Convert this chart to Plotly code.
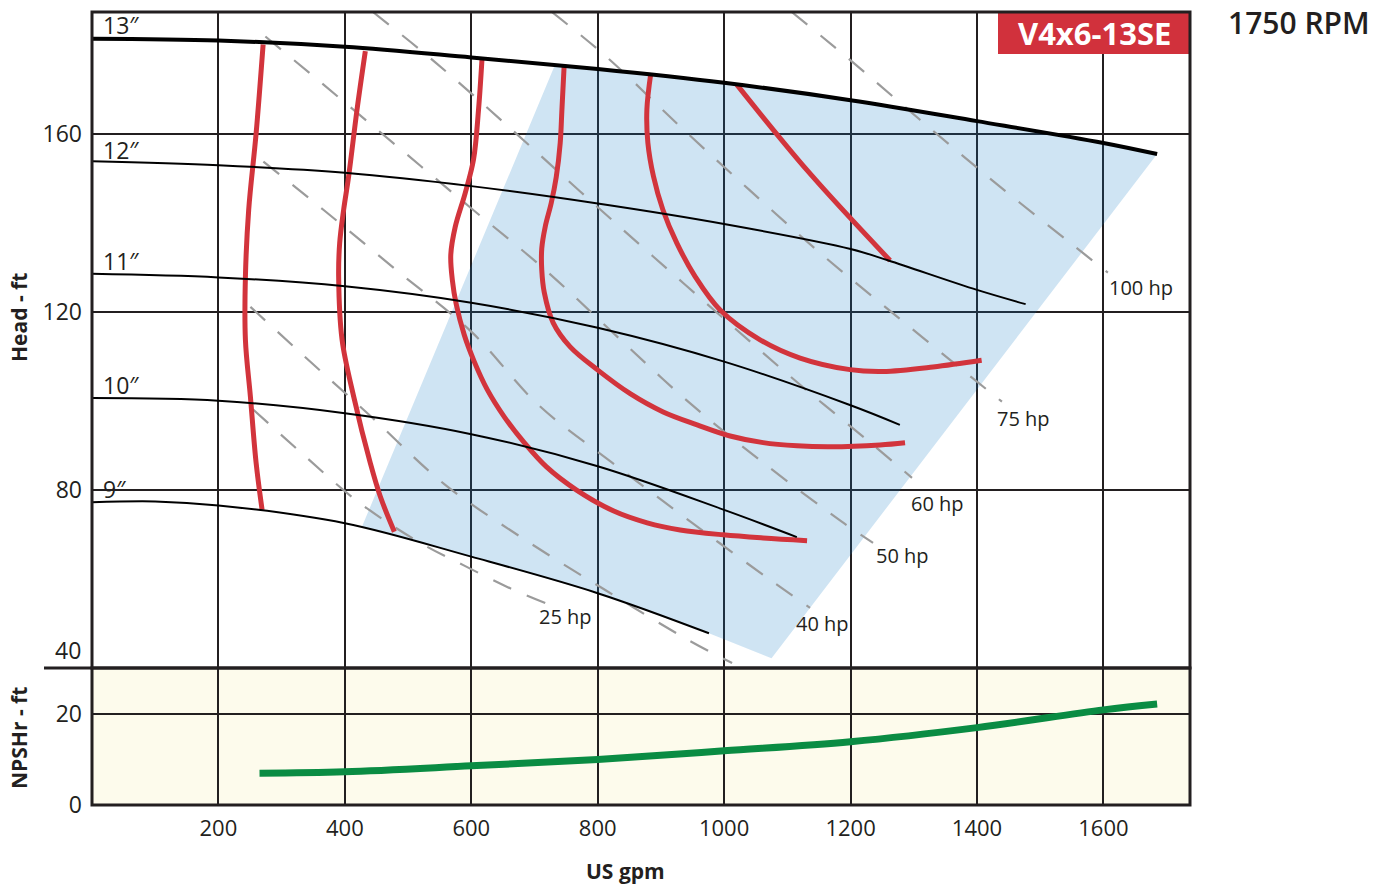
import plotly.graph_objects as go

# ---------------- data ----------------
# Impeller head curves: flow (US gpm) vs head (ft)
q13 = [0, 200, 400, 600, 800, 1000, 1200, 1400, 1600, 1685]
h13 = [181.3, 180.9, 179.5, 177.1, 174.5, 171.4, 167.5, 162.8, 157.9, 155.4]
q12 = [0, 200, 400, 600, 800, 1000, 1200, 1260, 1400, 1477]
h12 = [153.8, 152.9, 151.2, 148.2, 144.3, 139.7, 134.1, 131.5, 124.9, 121.7]
q11 = [0, 200, 400, 600, 800, 1000, 1200, 1278]
h11 = [128.5, 127.7, 125.7, 122.0, 116.4, 108.8, 99.0, 94.6]
q10 = [0, 200, 400, 600, 800, 1000, 1115]
h10 = [100.6, 100.0, 97.2, 92.5, 85.3, 75.5, 69.4]
q9 = [0, 100, 200, 400, 600, 800, 976]
h9 = [77.2, 77.4, 76.5, 72.5, 65.0, 56.8, 47.8]
impeller_labels = ["13″", "12″", "11″", "10″", "9″"]
impeller_label_h = [184.3, 156.4, 131.3, 103.6, 80.2]

# Iso-efficiency curves
e1_q = [270.7, 259.6, 247.9, 242.7, 242.7, 250.6, 259.6, 269.1]
e1_h = [180.0, 160.0, 142.9, 127.9, 113.7, 100.9, 86.1, 75.5]
e2_q = [432.4, 419.3, 406.0, 398.1, 391.8, 390.2, 395.6, 413.9, 440.3, 456.1, 478.3]
e2_h = [178.5, 165.4, 150.4, 142.9, 135.4, 127.9, 113.7, 101.0, 86.0, 78.5, 70.6]
e3_q = [616.9, 611.5, 603.6, 590.5, 574.7, 567.6, 570.0, 576.3, 588.9, 604.7, 625.3,
        652.2, 683.8, 718.6, 766.0, 824.5, 878.3, 930.4, 998.4, 1061.7, 1131.2]
e3_h = [176.6, 165.4, 154.2, 146.7, 139.1, 132.8, 127.2, 121.6, 114.8, 108.8, 102.5,
        96.4, 90.6, 85.2, 80.0, 75.3, 72.6, 71.0, 69.9, 69.2, 68.6]
e4_q = [747.0, 743.4, 740.7, 734.4, 726.5, 717.0, 711.5, 711.5, 715.5, 729.6, 756.5,
        799.2, 851.4, 903.6, 957.3, 1009.5, 1061.7, 1115.4, 1167.6, 1246.6, 1286.2]
e4_h = [175.5, 165.4, 157.9, 150.2, 144.4, 139.1, 134.2, 129.4, 124.3, 117.5, 112.1,
        107.0, 101.6, 97.5, 94.6, 92.1, 90.6, 89.9, 89.7, 90.1, 90.6]
e5_q = [884.1, 877.8, 879.4, 888.2, 903.1, 925.2, 954.2, 993.7, 1056.9, 1120.2,
        1199.2, 1251.4, 1330.4, 1407.4]
e5_h = [173.6, 165.4, 157.9, 150.4, 142.9, 135.4, 127.9, 120.4, 113.7, 109.6,
        107.0, 106.6, 107.6, 109.1]
e6_q = [1020.1, 1132.9, 1262.5]
e6_h = [171.0, 151.5, 131.5]

# Constant power lines (hp)
p25_q = [255.3, 334.4, 421.3, 519.4, 587.4, 656.9, 717.0]
p25_h = [98.0, 87.9, 77.3, 68.1, 63.1, 58.2, 54.6]
p30_q = [250.6, 329.7, 443.5, 557.3, 680.6, 811.9, 943.1, 1012.6]
p30_h = [121.1, 110.8, 96.2, 81.3, 69.2, 57.5, 46.3, 41.1]
p40_q = [271.1, 366.0, 484.6, 601.6, 706.0, 827.7, 949.4, 1072.7, 1135.9]
p40_h = [153.7, 142.9, 129.0, 115.3, 99.1, 85.6, 72.6, 59.8, 53.5]
p50_q = [274.3, 364.4, 481.4, 598.4, 717.0, 830.8, 943.1, 1061.7, 1186.6, 1235.6]
p50_h = [181.8, 171.2, 157.3, 143.4, 129.4, 114.4, 99.8, 86.1, 72.8, 68.1]
p60_q = [444.4, 543.1, 658.5, 772.3, 887.7, 1004.7, 1120.2, 1235.6, 1297.2]
p60_h = [187.3, 176.0, 161.6, 147.0, 132.4, 117.8, 103.6, 90.1, 82.7]
p75_q = [727.4, 815.0, 927.3, 1039.5, 1155.0, 1273.6, 1392.1, 1439.5]
p75_h = [187.3, 177.1, 162.0, 147.4, 132.8, 118.9, 105.2, 99.8]
p100_q = [1106.9, 1194.5, 1309.9, 1428.5, 1547.0, 1607.1]
p100_h = [187.3, 177.1, 163.1, 149.0, 135.5, 128.8]
hp_labels = ["25 hp", "40 hp", "50 hp", "60 hp", "75 hp", "100 hp"]
hp_label_q = [748.6, 1155.2, 1282.2, 1337.5, 1473.5, 1660.1]
hp_label_h = [51.5, 49.9, 65.2, 77.0, 96.1, 125.5]

# Preferred operating region (outline vertices)
region_q = [733, 800, 1000, 1200, 1400, 1600, 1685, 1075, 976, 800, 600, 427]
region_h = [175.6, 174.5, 171.4, 167.5, 162.8, 157.9, 155.4, 42.2, 47.8, 56.8, 65.0, 71.7]

# NPSHr curve
npsh_q = [265, 400, 600, 800, 1000, 1200, 1400, 1600, 1685]
npsh_ft = [7.0, 7.3, 8.6, 10.0, 11.9, 13.9, 17.0, 20.9, 22.2]

x_ticks = [200, 400, 600, 800, 1000, 1200, 1400, 1600]
head_ticks = [80, 120, 160]
npsh_ticks = [0, 20]

# ---------------- styling ----------------
INK = "#231f20"
RED = "#d2343c"
GRAY = "#9b9b9b"
FONT = "Open Sans"
X_MAX = 1737
H_MIN, H_MAX = 40, 187.3
N_MAX = 30.1
W, H = 1390, 886
PW, PH = 1098, 793          # plot area size in px
PL, PT = 92, 12             # plot area left/top on screen
SPLIT = 137 / PH            # NPSH panel fraction of plot height


def px(x):
    return (x - PL) / PW


def py(y):
    return 1 - (y - PT) / PH


fig = go.Figure()

# operating region
fig.add_trace(go.Scatter(x=region_q, y=region_h, fill="toself", mode="lines",
                         fillcolor="rgba(15,120,195,0.2)", line=dict(width=0),
                         hoverinfo="skip", showlegend=False, xaxis="x", yaxis="y"))

# power lines
for q, h in [(p25_q, p25_h), (p30_q, p30_h), (p40_q, p40_h), (p50_q, p50_h),
             (p60_q, p60_h), (p75_q, p75_h), (p100_q, p100_h)]:
    fig.add_trace(go.Scatter(x=q, y=h, mode="lines",
                             line=dict(color=GRAY, width=2.2, dash="20px,17px", shape="spline"),
                             hoverinfo="skip", showlegend=False, xaxis="x", yaxis="y"))

# efficiency curves
for q, h in [(e1_q, e1_h), (e2_q, e2_h), (e3_q, e3_h), (e4_q, e4_h), (e5_q, e5_h), (e6_q, e6_h)]:
    fig.add_trace(go.Scatter(x=q, y=h, mode="lines", line=dict(color=RED, width=5, shape="spline"),
                             hoverinfo="skip", showlegend=False, xaxis="x", yaxis="y"))

# impeller curves
for q, h, w in [(q13, h13, 4), (q12, h12, 2), (q11, h11, 2), (q10, h10, 2), (q9, h9, 2)]:
    fig.add_trace(go.Scatter(x=q, y=h, mode="lines", line=dict(color="#000000", width=w, shape="spline"),
                             hoverinfo="skip", showlegend=False, xaxis="x", yaxis="y"))

# NPSHr
fig.add_trace(go.Scatter(x=npsh_q, y=npsh_ft, mode="lines",
                         line=dict(color="#0a8c43", width=7, shape="spline"),
                         hoverinfo="skip", showlegend=False, xaxis="x2", yaxis="y2"))

axis_common = dict(range=[0, X_MAX], tickvals=x_ticks, showgrid=True, gridcolor=INK, gridwidth=1.5,
                   zeroline=False, showline=False, ticks="", fixedrange=True,
                   tickfont=dict(family=FONT, size=22, color=INK))
yfont = dict(family=FONT, size=23, color=INK)

fig.update_layout(
    width=W, height=H,
    margin=dict(l=PL, r=W - PL - PW, t=PT, b=H - PT - PH),
    paper_bgcolor="white", plot_bgcolor="rgba(0,0,0,0)",
    showlegend=False,
    xaxis=dict(**axis_common, anchor="y", showticklabels=False),
    xaxis2=dict(**axis_common, anchor="y2", matches="x", showticklabels=True, ticklabelstandoff=8),
    yaxis=dict(domain=[SPLIT, 1], range=[H_MIN, H_MAX], tickvals=head_ticks, showgrid=True,
               gridcolor=INK, gridwidth=1.5, zeroline=False, showline=False, ticks="",
               ticklabelstandoff=9, tickfont=yfont, fixedrange=True),
    yaxis2=dict(domain=[0, SPLIT], range=[0, N_MAX], tickvals=npsh_ticks, showgrid=True,
                gridcolor=INK, gridwidth=1.5, zeroline=False, showline=False, ticks="",
                ticklabelstandoff=9, tickfont=yfont, fixedrange=True),
)

shapes = [
    # NPSH panel background
    dict(type="rect", xref="x2 domain", yref="y2 domain", x0=0, x1=1, y0=0, y1=1,
         fillcolor="#fdfbec", line=dict(width=0), layer="below"),
    # gap in the 80 ft grid line behind the 9" label
    dict(type="rect", xref="paper", yref="y", x0=px(101), x1=px(125), y0=79.4, y1=80.6,
         fillcolor="white", line=dict(width=0), layer="between"),
    # title box
    dict(type="rect", xref="paper", yref="paper", x0=px(998), x1=1,
         y0=py(54), y1=1, fillcolor="#d1313c", line=dict(width=0), layer="above"),
    # panel borders
    dict(type="rect", xref="paper", yref="paper", x0=0, x1=1, y0=SPLIT, y1=1,
         line=dict(color=INK, width=3), layer="above"),
    dict(type="rect", xref="paper", yref="paper", x0=0, x1=1, y0=0, y1=SPLIT,
         line=dict(color=INK, width=3), layer="above"),
    # separator extension to the left
    dict(type="line", xref="paper", yref="paper", x0=px(44), x1=0, y0=SPLIT, y1=SPLIT,
         line=dict(color=INK, width=3), layer="above"),
]
fig.update_layout(shapes=shapes)

ann = []
for t, h in zip(impeller_labels, impeller_label_h):
    ann.append(dict(x=15.0, y=h, xref="x", yref="y", text=t, showarrow=False, xanchor="left",
                    yanchor="middle", font=dict(family=FONT, size=23, color=INK)))
for t, q, h in zip(hp_labels, hp_label_q, hp_label_h):
    ann.append(dict(x=q, y=h, xref="x", yref="y", text=t, showarrow=False,
                    xanchor="center", yanchor="middle",
                    font=dict(family=FONT, size=20, color=INK)))
# lowest head tick label sits above the panel separator
ann.append(dict(x=0, y=H_MIN, xref="paper", yref="y", text="40", showarrow=False, xanchor="right",
                yanchor="bottom", xshift=-9, font=yfont))
# title + speed
ann.append(dict(x=px(1094), y=py(33), xref="paper", yref="paper", text="<b>V4x6-13SE</b>",
                showarrow=False, xanchor="center", yanchor="middle",
                font=dict(family=FONT, size=31, color="white")))
ann.append(dict(x=px(1299), y=py(23), xref="paper", yref="paper", text="1750 RPM",
                showarrow=False, xanchor="center", yanchor="middle", borderpad=0,
                font=dict(family=FONT, size=30, color=INK, weight=600)))
# axis titles
ann.append(dict(x=px(19), y=py(318), xref="paper", yref="paper",
                text="<b>Head - ft</b>", textangle=-90, showarrow=False, borderpad=0,
                xanchor="center", yanchor="middle", font=dict(family=FONT, size=21, color=INK)))
ann.append(dict(x=px(19), y=py(738), xref="paper", yref="paper",
                text="<b>NPSHr - ft</b>", textangle=-90, showarrow=False, borderpad=0,
                xanchor="center", yanchor="middle", font=dict(family=FONT, size=21, color=INK)))
ann.append(dict(x=px(625), y=py(871), xref="paper", yref="paper",
                text="<b>US gpm</b>", showarrow=False, xanchor="center", yanchor="middle",
                borderpad=0, font=dict(family=FONT, size=21, color=INK)))
fig.update_layout(annotations=ann)

# remove the default 8px page margin so the figure fills the window exactly
fig.write_html("out.html", config={"displayModeBar": False},
               post_script="document.body.style.margin='0';")
